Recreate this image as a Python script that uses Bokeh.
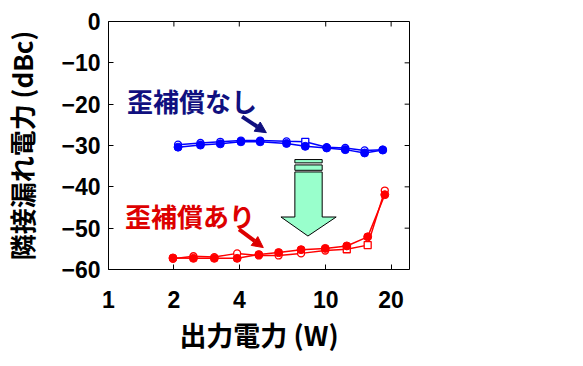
import math
from bokeh.plotting import figure
from bokeh.models import (Range1d, FixedTicker, Arrow, NormalHead, Label,
                          ColumnDataSource, PrintfTickFormatter)
from bokeh.embed import file_html
from bokeh.resources import INLINE

# ---- data ----
blue_x = [2.09, 2.65, 3.27, 4.07, 4.99, 6.60, 8.05, 10.1, 12.3, 15.1, 18.3]
blue_filled = [-30.4, -29.9, -29.6, -29.1, -29.1, -29.5, -30.2, -30.6, -31.0, -31.8, -31.1]
blue_open = [-29.8, -29.4, -29.1, -28.8, -28.8, -29.0, -29.1, -30.4, -30.6, -31.2, -31.0]
blue_open_marker = ["circle"] * 6 + ["square"] + ["circle"] * 4

red_x = [1.98, 2.46, 3.07, 3.91, 4.92, 6.07, 7.70, 9.95, 12.5, 15.6, 18.7]
red_filled = [-57.2, -57.3, -57.3, -57.3, -56.4, -55.9, -55.2, -54.9, -54.3, -52.1, -41.9]
red_open = [-57.4, -56.8, -57.0, -56.1, -56.6, -56.6, -56.1, -55.4, -55.1, -54.1, -40.9]
red_open_marker = ["circle"] * 8 + ["square", "square", "circle"]

x_ticks = [1, 2, 4, 10, 20]
y_ticks = [-60, -50, -40, -30, -20, -10, 0]
x_lim = (1, 24.3)
y_lim = (-60, 0)

label_none = "歪補償なし"
label_with = "歪補償あり"
x_title = "出力電力 (W)"
y_title = "隣接漏れ電力 (dBc)"

BLUE = "#0000ff"
RED = "#ff0000"
NAVY = "#10107f"
DRED = "#dd0000"
GREEN = "#99ffcc"

FW, FH = 309, 248
p = figure(width=567, height=357,
           min_border_left=100, min_border_right=158,
           min_border_top=21, min_border_bottom=88,
           x_axis_type="log", x_range=Range1d(*x_lim), y_range=Range1d(*y_lim),
           output_backend="svg", toolbar_location=None)
p.grid.visible = False
p.outline_line_color = "black"
p.outline_line_width = 1
p.background_fill_color = "white"
p.border_fill_color = "white"

TICK_FONT = "Liberation Sans"
CJK = "Noto Sans CJK JP"

xa = p.xaxis[0]
xa.ticker = FixedTicker(ticks=x_ticks)
xa.formatter = PrintfTickFormatter(format="%d")
ya = p.yaxis[0]
ya.ticker = FixedTicker(ticks=y_ticks)

for ax in (xa, ya):
    ax.axis_line_color = None
    ax.major_tick_in = 5
    ax.major_tick_out = 0
    ax.major_tick_line_color = "black"
    ax.minor_tick_line_color = None
    ax.major_label_text_font = TICK_FONT
    ax.major_label_text_font_style = "bold"
    ax.major_label_text_font_size = "23px"
    ax.major_label_text_color = "black"
    ax.axis_label_text_font = CJK
    ax.axis_label_text_font_style = "bold"
    ax.axis_label_text_color = "black"

xa.axis_label = x_title
xa.axis_label_text_font_size = "27px"
xa.major_label_standoff = 21
xa.axis_label_standoff = 4
ya.axis_label = y_title
ya.axis_label_text_font_size = "26px"
ya.major_label_standoff = 8
ya.axis_label_standoff = 18

# mirrored inner ticks on the top and right edges (5 px long)
dy = 5 * (y_lim[1] - y_lim[0]) / FH
dx_fac = 10 ** (5 * (math.log10(x_lim[1]) - math.log10(x_lim[0])) / FW)
p.segment(x0=x_ticks, y0=[y_lim[1]] * len(x_ticks), x1=x_ticks,
          y1=[y_lim[1] - dy] * len(x_ticks), line_color="black", line_width=1)
p.segment(x0=[x_lim[1]] * len(y_ticks), y0=y_ticks, x1=[x_lim[1] / dx_fac] * len(y_ticks),
          y1=y_ticks, line_color="black", line_width=1)

# ---- series ----
bsrc_o = ColumnDataSource(dict(x=blue_x, y=blue_open, m=blue_open_marker))
rsrc_o = ColumnDataSource(dict(x=red_x, y=red_open, m=red_open_marker))

p.line(blue_x, blue_open, line_color=BLUE, line_width=1.5)
p.line(blue_x, blue_filled, line_color=BLUE, line_width=1.5)
p.scatter("x", "y", marker="m", source=bsrc_o, size=7, line_color=BLUE,
          fill_color="white", line_width=1.3)
p.scatter(blue_x, blue_filled, marker="circle", size=8, line_color=BLUE, fill_color=BLUE)

p.line(red_x, red_open, line_color=RED, line_width=1.5)
p.line(red_x, red_filled, line_color=RED, line_width=1.5)
p.scatter("x", "y", marker="m", source=rsrc_o, size=7, line_color=RED,
          fill_color="white", line_width=1.3)
p.scatter(red_x, red_filled, marker="circle", size=8, line_color=RED, fill_color=RED)

# ---- annotations ----
p.add_layout(Label(x=1.217, y=-19.1, text=label_none, text_font=CJK,
                   text_font_style="bold", text_font_size="26px",
                   text_color=NAVY, text_baseline="middle", text_align="left"))
p.add_layout(Label(x=1.192, y=-46.9, text=label_with, text_font=CJK,
                   text_font_style="bold", text_font_size="26px",
                   text_color=DRED, text_baseline="middle", text_align="left"))

p.add_layout(Arrow(end=NormalHead(size=11, fill_color=NAVY, line_color=NAVY),
                   x_start=4.12, y_start=-23.0, x_end=5.33, y_end=-26.9,
                   line_color=NAVY, line_width=4))
p.add_layout(Arrow(end=NormalHead(size=11, fill_color=DRED, line_color=DRED),
                   x_start=3.99, y_start=-50.3, x_end=5.16, y_end=-54.7,
                   line_color=DRED, line_width=4))

# big green down arrow (annotation shape)
arrow_xs = [[7.21, 9.63, 9.63, 7.21],
            [7.21, 9.63, 9.63, 7.21],
            [7.21, 9.63, 9.63, 11.17, 8.28, 6.22, 7.21]]
arrow_ys = [[-33.4, -33.4, -34.2, -34.2],
            [-34.7, -34.7, -36.0, -36.0],
            [-36.4, -36.4, -47.3, -47.3, -51.9, -47.3, -47.3]]
p.patches(arrow_xs, arrow_ys, fill_color=GREEN, line_color="black", line_width=1)

open("out.html", "w").write(file_html(p, INLINE))
